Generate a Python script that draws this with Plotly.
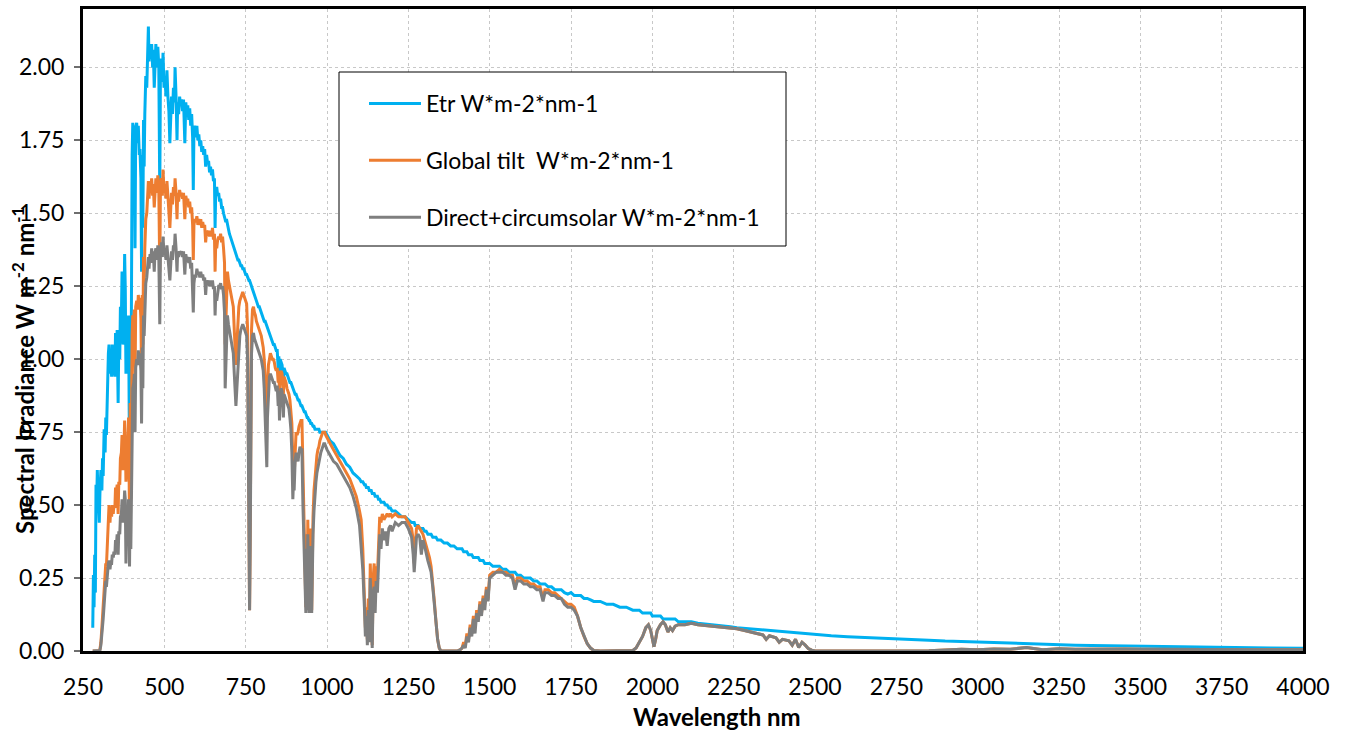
import plotly.graph_objects as go

# ---------------- data ----------------
wl_uv = [280, 282, 284, 286, 288, 290, 292, 294, 296, 298,
         300, 302, 305, 308, 310, 312, 315, 318, 320, 322,
         325, 328, 330, 333, 335, 338, 340, 343, 345, 348,
         350, 353, 355, 358, 360, 363, 365, 368, 370, 373,
         375, 378, 380, 382, 384, 386, 388, 390, 393, 395,
         397, 399]
etr_uv = [0.08, 0.26, 0.15, 0.33, 0.20, 0.57, 0.50, 0.62, 0.55, 0.46,
          0.44, 0.54, 0.62, 0.55, 0.66, 0.60, 0.76, 0.68, 0.80, 0.74,
          0.93, 1.02, 1.05, 0.95, 1.00, 0.94, 1.05, 0.96, 0.98, 0.94,
          1.09, 1.02, 1.10, 0.85, 1.06, 1.00, 1.18, 1.14, 1.30, 1.05,
          1.12, 1.36, 1.24, 0.95, 1.05, 1.07, 1.00, 1.15, 0.65, 1.10,
          0.75, 1.35]
glob_uv = [0, 0, 0, 0, 0, 0, 0, 0, 0, 0,
           0.001, 0.005, 0.03, 0.08, 0.12, 0.16, 0.22, 0.25, 0.30, 0.29,
           0.40, 0.46, 0.50, 0.44, 0.48, 0.46, 0.50, 0.47, 0.50, 0.49,
           0.56, 0.55, 0.57, 0.47, 0.58, 0.57, 0.66, 0.68, 0.74, 0.62,
           0.66, 0.79, 0.74, 0.58, 0.63, 0.65, 0.62, 0.80, 0.45, 0.85,
           0.52, 0.95]
dir_uv = [0, 0, 0, 0, 0, 0, 0, 0, 0, 0,
          0, 0.002, 0.02, 0.05, 0.08, 0.11, 0.16, 0.20, 0.24, 0.22,
          0.27, 0.30, 0.31, 0.28, 0.30, 0.30, 0.33, 0.32, 0.34, 0.33,
          0.38, 0.37, 0.40, 0.33, 0.41, 0.40, 0.46, 0.47, 0.52, 0.44,
          0.47, 0.55, 0.52, 0.30, 0.45, 0.47, 0.45, 0.52, 0.29, 0.51,
          0.35, 0.64]

wl_vis = [401, 403, 406, 408, 410, 412, 415, 418, 420, 423,
          425, 428, 430, 432, 434, 436, 438, 440, 443, 446,
          448, 451, 453, 456, 458, 461, 464, 466, 469, 471,
          474, 477, 480, 483, 486, 488, 491, 494, 496, 499,
          502, 505, 508, 511, 514, 517, 519, 522, 525, 528,
          531, 533, 536, 539, 541, 544, 547, 550, 553, 556,
          559, 561, 563, 566, 569, 572, 575, 578, 581, 584,
          587, 589, 591, 594, 597, 600, 603, 606, 609, 612,
          615, 618, 621, 624, 627, 630, 633, 636, 639, 642,
          645, 648, 651, 654, 656, 658, 661, 664, 667, 670,
          673, 676, 679, 682, 685, 687, 689, 691, 694, 697,
          700]
etr_vis = [1.70, 1.81, 1.78, 1.80, 1.38, 1.79, 1.81, 1.74, 1.80, 1.70,
           1.72, 1.62, 1.30, 1.70, 1.45, 1.82, 1.66, 1.84, 1.97, 1.93,
           2.05, 2.14, 2.02, 2.08, 2.03, 2.08, 2.00, 2.06, 1.93, 2.03,
           2.08, 2.00, 2.07, 2.00, 1.57, 1.98, 2.03, 1.95, 2.05, 1.93,
           1.97, 1.90, 1.99, 1.90, 1.85, 1.74, 1.80, 1.90, 1.84, 1.93,
           1.88, 2.00, 1.90, 1.75, 1.88, 1.84, 1.90, 1.87, 1.89, 1.85,
           1.89, 1.82, 1.74, 1.88, 1.84, 1.87, 1.82, 1.86, 1.80, 1.84,
           1.76, 1.58, 1.78, 1.80, 1.76, 1.80, 1.75, 1.77, 1.73, 1.75,
           1.71, 1.73, 1.70, 1.72, 1.66, 1.70, 1.67, 1.68, 1.64, 1.66,
           1.63, 1.65, 1.61, 1.62, 1.45, 1.58, 1.59, 1.56, 1.57, 1.54,
           1.55, 1.52, 1.52, 1.50, 1.49, 1.48, 1.47, 1.48, 1.46, 1.45,
           1.43]
glob_vis = [1.08, 1.15, 1.14, 1.17, 0.92, 1.18, 1.20, 1.17, 1.22, 1.18,
            1.21, 1.14, 0.95, 1.22, 1.05, 1.35, 1.25, 1.38, 1.48, 1.50,
            1.58, 1.61, 1.55, 1.60, 1.57, 1.62, 1.56, 1.60, 1.52, 1.59,
            1.62, 1.57, 1.63, 1.58, 1.30, 1.58, 1.62, 1.56, 1.65, 1.57,
            1.60, 1.55, 1.61, 1.56, 1.52, 1.45, 1.50, 1.57, 1.53, 1.59,
            1.56, 1.62, 1.57, 1.48, 1.57, 1.54, 1.58, 1.56, 1.57, 1.55,
            1.57, 1.53, 1.48, 1.56, 1.54, 1.55, 1.52, 1.54, 1.50, 1.52,
            1.46, 1.34, 1.46, 1.48, 1.47, 1.49, 1.46, 1.48, 1.46, 1.48,
            1.45, 1.47, 1.45, 1.46, 1.40, 1.44, 1.43, 1.44, 1.42, 1.44,
            1.42, 1.45, 1.41, 1.43, 1.30, 1.40, 1.38, 1.41, 1.42, 1.41,
            1.43, 1.40, 1.42, 1.38, 1.33, 1.05, 1.15, 1.25, 1.30, 1.27,
            1.25]
dir_vis = [0.82, 0.90, 0.92, 0.95, 0.75, 0.97, 1.00, 0.98, 1.03, 0.99,
           1.02, 0.96, 0.78, 1.04, 0.90, 1.15, 1.08, 1.18, 1.26, 1.28,
           1.32, 1.35, 1.31, 1.36, 1.33, 1.38, 1.33, 1.37, 1.30, 1.36,
           1.38, 1.34, 1.39, 1.35, 1.12, 1.36, 1.40, 1.35, 1.42, 1.36,
           1.38, 1.34, 1.39, 1.35, 1.31, 1.27, 1.31, 1.37, 1.34, 1.39,
           1.38, 1.43, 1.38, 1.30, 1.37, 1.35, 1.37, 1.36, 1.37, 1.35,
           1.37, 1.33, 1.29, 1.36, 1.34, 1.35, 1.33, 1.35, 1.31, 1.33,
           1.26, 1.16, 1.26, 1.29, 1.28, 1.31, 1.29, 1.30, 1.28, 1.30,
           1.28, 1.29, 1.27, 1.28, 1.22, 1.27, 1.26, 1.27, 1.25, 1.27,
           1.25, 1.27, 1.24, 1.25, 1.15, 1.22, 1.20, 1.24, 1.25, 1.25,
           1.26, 1.24, 1.25, 1.22, 1.16, 0.90, 1.00, 1.10, 1.15, 1.12,
           1.10]

wl_nir1 = [703, 706, 709, 712, 715, 718, 720, 723, 726, 729,
           732, 735, 738, 741, 744, 747, 750, 753, 756, 758,
           760, 762, 764, 766, 768, 771, 774, 777, 780, 783,
           786, 789, 792, 795, 798, 801, 804, 807, 810, 813,
           815, 817, 820, 823, 826, 829, 832, 835, 838, 841,
           844, 847, 850, 852, 854, 856, 859, 862, 866, 868,
           871, 874, 877, 880, 883, 886, 889, 892, 895, 897,
           899, 902, 905, 908, 911, 914, 917, 920, 923, 926,
           928, 930, 933, 935, 937, 939, 941, 943, 945, 947,
           950, 953, 955, 957, 960, 963, 966, 969, 972, 975,
           978, 981, 984, 987, 990, 993, 996, 1000]
etr_nir1 = [1.42, 1.41, 1.40, 1.39, 1.38, 1.37, 1.36, 1.35, 1.34, 1.34,
            1.33, 1.32, 1.32, 1.31, 1.31, 1.30, 1.29, 1.29, 1.28, 1.28,
            1.27, 1.27, 1.26, 1.26, 1.25, 1.24, 1.23, 1.22, 1.21, 1.20,
            1.19, 1.18, 1.18, 1.17, 1.16, 1.15, 1.14, 1.13, 1.13, 1.12,
            1.12, 1.11, 1.10, 1.09, 1.08, 1.07, 1.06, 1.05, 1.05, 1.04,
            1.03, 1.03, 0.97, 1.01, 0.94, 1.00, 0.99, 0.98, 0.92, 0.97,
            0.96, 0.95, 0.95, 0.94, 0.93, 0.92, 0.92, 0.91, 0.90, 0.90,
            0.89, 0.88, 0.88, 0.87, 0.86, 0.86, 0.85, 0.84, 0.84, 0.83,
            0.83, 0.82, 0.82, 0.81, 0.81, 0.80, 0.80, 0.79, 0.79, 0.79,
            0.78, 0.78, 0.77, 0.77, 0.77, 0.76, 0.76, 0.76, 0.76, 0.76,
            0.75, 0.75, 0.75, 0.75, 0.75, 0.75, 0.75, 0.74]
glob_nir1 = [1.23, 1.22, 1.20, 1.18, 1.10, 1.02, 0.98, 1.05, 1.12, 1.18,
             1.20, 1.21, 1.22, 1.23, 1.22, 1.21, 1.20, 1.19, 1.10, 0.60,
             0.20, 0.14, 0.40, 0.85, 1.10, 1.17, 1.18, 1.16, 1.15, 1.13,
             1.12, 1.11, 1.10, 1.09, 1.08, 1.06, 1.04, 1.00, 0.95, 0.88,
             0.80, 0.92, 0.98, 1.00, 1.02, 1.01, 1.00, 1.00, 0.99, 0.97,
             0.96, 0.97, 0.92, 0.96, 0.88, 0.95, 0.96, 0.95, 0.88, 0.94,
             0.93, 0.92, 0.90, 0.89, 0.88, 0.86, 0.83, 0.78, 0.65, 0.70,
             0.60, 0.72, 0.75, 0.74, 0.75, 0.77, 0.78, 0.79, 0.79, 0.60,
             0.50, 0.35, 0.22, 0.15, 0.40, 0.18, 0.45, 0.30, 0.15, 0.35,
             0.42, 0.14, 0.38, 0.46, 0.55, 0.60, 0.64, 0.67, 0.69, 0.70,
             0.72, 0.73, 0.74, 0.75, 0.75, 0.75, 0.74, 0.73]
dir_nir1 = [1.08, 1.07, 1.05, 1.02, 0.95, 0.88, 0.84, 0.90, 0.98, 1.04,
            1.08, 1.10, 1.11, 1.12, 1.11, 1.10, 1.09, 1.08, 1.00, 0.55,
            0.18, 0.14, 0.37, 0.78, 1.02, 1.08, 1.09, 1.07, 1.06, 1.05,
            1.04, 1.03, 1.02, 1.01, 1.00, 0.98, 0.96, 0.90, 0.82, 0.72,
            0.63, 0.80, 0.90, 0.94, 0.95, 0.94, 0.93, 0.92, 0.92, 0.90,
            0.89, 0.91, 0.84, 0.89, 0.79, 0.88, 0.90, 0.89, 0.80, 0.88,
            0.87, 0.86, 0.85, 0.84, 0.83, 0.80, 0.76, 0.68, 0.52, 0.58,
            0.55, 0.65, 0.68, 0.66, 0.65, 0.68, 0.70, 0.69, 0.69, 0.50,
            0.42, 0.25, 0.16, 0.13, 0.35, 0.14, 0.40, 0.24, 0.13, 0.30,
            0.36, 0.13, 0.33, 0.40, 0.48, 0.54, 0.58, 0.61, 0.63, 0.65,
            0.67, 0.68, 0.69, 0.70, 0.71, 0.71, 0.70, 0.69]

wl_nir2 = [1010, 1020, 1030, 1040, 1050, 1060, 1070, 1080, 1090, 1100,
           1105, 1110, 1115, 1118, 1121, 1124, 1127, 1130, 1133, 1136,
           1139, 1142, 1145, 1148, 1151, 1155, 1158, 1162, 1166, 1170,
           1175, 1180, 1185, 1190, 1195, 1200, 1210, 1220, 1230, 1240,
           1250, 1260, 1265, 1268, 1271, 1275, 1280, 1285, 1290, 1295,
           1300, 1305, 1310, 1315, 1320, 1325, 1330, 1335, 1340, 1345,
           1350, 1360, 1370, 1380, 1390, 1400, 1410, 1415, 1420, 1425,
           1430, 1435, 1440, 1445, 1450, 1455, 1460, 1465, 1470, 1475,
           1480, 1485, 1490, 1495, 1500]
etr_nir2 = [0.72, 0.71, 0.69, 0.67, 0.66, 0.64, 0.63, 0.61, 0.60, 0.59,
            0.58, 0.58, 0.57, 0.57, 0.56, 0.56, 0.56, 0.55, 0.55, 0.55,
            0.54, 0.54, 0.54, 0.53, 0.53, 0.53, 0.52, 0.52, 0.51, 0.51,
            0.51, 0.50, 0.50, 0.49, 0.49, 0.48, 0.48, 0.47, 0.46, 0.46,
            0.45, 0.44, 0.44, 0.44, 0.43, 0.43, 0.43, 0.42, 0.42, 0.42,
            0.41, 0.41, 0.40, 0.40, 0.40, 0.39, 0.39, 0.39, 0.38, 0.38,
            0.38, 0.37, 0.37, 0.36, 0.36, 0.35, 0.35, 0.35, 0.34, 0.34,
            0.34, 0.33, 0.33, 0.33, 0.32, 0.32, 0.32, 0.32, 0.31, 0.31,
            0.31, 0.30, 0.30, 0.30, 0.30]
glob_nir2 = [0.71, 0.69, 0.67, 0.65, 0.63, 0.61, 0.59, 0.56, 0.53, 0.48,
             0.45, 0.35, 0.20, 0.08, 0.15, 0.04, 0.18, 0.05, 0.30, 0.12,
             0.02, 0.25, 0.30, 0.18, 0.29, 0.26, 0.35, 0.46, 0.44, 0.47,
             0.45, 0.46, 0.47, 0.46, 0.47, 0.46, 0.47, 0.46, 0.46, 0.46,
             0.44, 0.42, 0.38, 0.30, 0.36, 0.42, 0.43, 0.42, 0.41, 0.40,
             0.38, 0.36, 0.34, 0.32, 0.29, 0.24, 0.17, 0.10, 0.04, 0.01,
             0.0, 0.0, 0.0, 0.0, 0.0, 0.0, 0.005, 0.01, 0.03, 0.02,
             0.06, 0.04, 0.09, 0.06, 0.12, 0.08, 0.14, 0.11, 0.17, 0.13,
             0.19, 0.16, 0.22, 0.18, 0.26]
dir_nir2 = [0.67, 0.65, 0.64, 0.62, 0.60, 0.58, 0.56, 0.53, 0.49, 0.43,
            0.35, 0.28, 0.15, 0.05, 0.12, 0.02, 0.14, 0.03, 0.25, 0.08,
            0.01, 0.20, 0.22, 0.13, 0.24, 0.20, 0.30, 0.40, 0.35, 0.42,
            0.38, 0.41, 0.36, 0.42, 0.43, 0.41, 0.44, 0.43, 0.44, 0.44,
            0.42, 0.39, 0.33, 0.27, 0.32, 0.39, 0.40, 0.39, 0.33, 0.38,
            0.36, 0.33, 0.31, 0.29, 0.27, 0.22, 0.16, 0.09, 0.04, 0.01,
            0.0, 0.0, 0.0, 0.0, 0.0, 0.0, 0.005, 0.01, 0.02, 0.01,
            0.05, 0.03, 0.08, 0.05, 0.11, 0.06, 0.13, 0.10, 0.16, 0.12,
            0.18, 0.14, 0.21, 0.17, 0.25]

wl_swir = [1510, 1520, 1530, 1540, 1550, 1560, 1570, 1578, 1585, 1595,
           1605, 1615, 1625, 1635, 1645, 1655, 1664, 1670, 1680, 1690,
           1700, 1710, 1720, 1730, 1740, 1750, 1760, 1770, 1780, 1790,
           1800, 1810, 1820, 1840, 1860, 1880, 1900, 1920, 1940, 1950,
           1960, 1970, 1980, 1988, 1995, 2000, 2005, 2010, 2015, 2025,
           2033, 2040, 2048, 2055, 2062, 2070, 2080, 2100, 2120, 2140,
           2160, 2180, 2200, 2220, 2240, 2260, 2280, 2300, 2320, 2340,
           2350, 2360, 2380, 2390, 2400, 2420, 2430, 2440, 2450, 2460,
           2470, 2480, 2490, 2500]
etr_swir = [0.29, 0.29, 0.29, 0.28, 0.28, 0.27, 0.27, 0.27, 0.26, 0.26,
            0.25, 0.25, 0.25, 0.24, 0.24, 0.23, 0.23, 0.23, 0.22, 0.22,
            0.21, 0.21, 0.21, 0.20, 0.195, 0.20, 0.19, 0.19, 0.19, 0.18,
            0.18, 0.175, 0.17, 0.17, 0.16, 0.16, 0.15, 0.15, 0.14, 0.14,
            0.14, 0.13, 0.13, 0.13, 0.13, 0.12, 0.12, 0.12, 0.12, 0.12,
            0.11, 0.11, 0.11, 0.11, 0.11, 0.11, 0.10, 0.10, 0.10, 0.095,
            0.093, 0.09, 0.088, 0.085, 0.083, 0.08, 0.078, 0.076, 0.073, 0.071,
            0.07, 0.069, 0.067, 0.066, 0.065, 0.063, 0.062, 0.061, 0.060, 0.059,
            0.058, 0.057, 0.056, 0.055]
glob_swir = [0.27, 0.27, 0.28, 0.27, 0.27, 0.26, 0.26, 0.22, 0.25, 0.25,
             0.24, 0.24, 0.23, 0.23, 0.22, 0.22, 0.18, 0.21, 0.21, 0.20,
             0.20, 0.19, 0.18, 0.17, 0.16, 0.16, 0.15, 0.12, 0.08, 0.05,
             0.025, 0.01, 0.002, 0, 0, 0, 0, 0, 0.002, 0.01,
             0.03, 0.05, 0.08, 0.09, 0.07, 0.04, 0.015, 0.04, 0.07, 0.09,
             0.10, 0.09, 0.065, 0.08, 0.07, 0.085, 0.09, 0.09, 0.095, 0.09,
             0.088, 0.086, 0.084, 0.082, 0.078, 0.076, 0.071, 0.066, 0.062, 0.055,
             0.04, 0.052, 0.045, 0.03, 0.04, 0.035, 0.02, 0.04, 0.012, 0.03,
             0.02, 0.008, 0.003, 0.0]
dir_swir = [0.26, 0.27, 0.27, 0.27, 0.26, 0.26, 0.25, 0.21, 0.24, 0.24,
            0.23, 0.23, 0.22, 0.22, 0.21, 0.21, 0.17, 0.20, 0.20, 0.19,
            0.19, 0.18, 0.18, 0.16, 0.15, 0.15, 0.14, 0.12, 0.08, 0.05,
            0.025, 0.01, 0.002, 0, 0, 0, 0, 0, 0.002, 0.01,
            0.03, 0.05, 0.08, 0.09, 0.07, 0.04, 0.015, 0.04, 0.07, 0.09,
            0.10, 0.09, 0.065, 0.08, 0.07, 0.085, 0.09, 0.09, 0.095, 0.09,
            0.088, 0.086, 0.084, 0.082, 0.078, 0.076, 0.071, 0.066, 0.062, 0.055,
            0.04, 0.052, 0.045, 0.03, 0.04, 0.035, 0.02, 0.04, 0.012, 0.03,
            0.02, 0.008, 0.003, 0.0]

wl_far = [2550, 2600, 2650, 2700, 2750, 2800, 2850, 2900, 2950, 3000,
          3050, 3100, 3150, 3200, 3250, 3300, 3350, 3400, 3450, 3500,
          3600, 3700, 3800, 3900, 4000]
etr_far = [0.052, 0.049, 0.047, 0.044, 0.042, 0.039, 0.037, 0.034, 0.032, 0.030,
           0.028, 0.027, 0.025, 0.023, 0.022, 0.020, 0.019, 0.018, 0.017, 0.016,
           0.014, 0.012, 0.011, 0.010, 0.009]
glob_far = [0, 0, 0, 0, 0, 0, 0.001, 0.003, 0.006, 0.004,
            0.007, 0.006, 0.012, 0.004, 0.008, 0.006, 0.007, 0.006, 0.007, 0.006,
            0.006, 0.006, 0.005, 0.005, 0.004]
dir_far = [0, 0, 0, 0, 0, 0, 0.001, 0.003, 0.006, 0.004,
           0.007, 0.006, 0.012, 0.004, 0.008, 0.006, 0.007, 0.006, 0.007, 0.006,
           0.006, 0.006, 0.005, 0.005, 0.004]

x_ticks = [250, 500, 750, 1000, 1250, 1500, 1750, 2000, 2250, 2500,
           2750, 3000, 3250, 3500, 3750, 4000]
y_ticks = [0.00, 0.25, 0.50, 0.75, 1.00, 1.25, 1.50, 1.75, 2.00]

series_names = ["Etr W*m-2*nm-1", "Global tilt  W*m-2*nm-1",
                "Direct+circumsolar W*m-2*nm-1"]
series_colors = ["#00B0F0", "#ED7D31", "#7F7F7F"]

# ---------------- assemble ----------------
wavelength = wl_uv + wl_vis + wl_nir1 + wl_nir2 + wl_swir + wl_far
etr = etr_uv + etr_vis + etr_nir1 + etr_nir2 + etr_swir + etr_far
glob = glob_uv + glob_vis + glob_nir1 + glob_nir2 + glob_swir + glob_far
direct = dir_uv + dir_vis + dir_nir1 + dir_nir2 + dir_swir + dir_far
for nm, arr in (("etr", etr), ("glob", glob), ("direct", direct)):
    if len(arr) != len(wavelength):
        raise ValueError(f"{nm}: {len(arr)} vs {len(wavelength)}")

W, H = 1345, 731
L, R, T, B = 83, 42, 9, 80
PW, PH = W - L - R, H - T - B


def fx(px):
    return (px - L) / PW


def fy(py):
    return (H - B - py) / PH


FONT = "Lato"

fig = go.Figure()
for i, (vals, nm, col) in enumerate(zip([etr, glob, direct], series_names, series_colors)):
    fig.add_trace(go.Scatter(
        x=wavelength, y=vals, mode="lines", name=nm,
        line=dict(color=col, width=3),
        legendgroup=f"g{i}", hoverinfo="x+y+name"))

fig.update_layout(
    width=W, height=H,
    margin=dict(l=L, r=R, t=T, b=B, autoexpand=False),
    paper_bgcolor="white", plot_bgcolor="white",
    font=dict(family=FONT, size=23, color="black"),
    showlegend=True,
    legend=dict(x=fx(364), y=fy(82), xanchor="left", yanchor="top",
                bgcolor="rgba(0,0,0,0)", borderwidth=0,
                itemwidth=52, tracegroupgap=24, traceorder="grouped",
                font=dict(family=FONT, size=23, color="black")),
    xaxis=dict(range=[250, 4000], tickmode="array", tickvals=x_ticks,
               ticktext=[str(v) for v in x_ticks],
               showgrid=True, gridcolor="#C8C8C8", griddash="dot", gridwidth=1,
               showline=True, linecolor="black", linewidth=3, mirror=True,
               ticks="", zeroline=False, ticklabelstandoff=13,
               tickfont=dict(family=FONT, size=23, color="black")),
    yaxis=dict(range=[0, 2.2], tickmode="array", tickvals=y_ticks,
               ticktext=[f"{v:.2f}" for v in y_ticks],
               showgrid=True, gridcolor="#C8C8C8", griddash="dot", gridwidth=1,
               showline=True, linecolor="black", linewidth=3, mirror=True,
               ticks="outside", ticklen=6, tickwidth=2, tickcolor="#6E6E6E",
               zeroline=False, ticklabelstandoff=5,
               tickfont=dict(family=FONT, size=23, color="black")),
    shapes=[dict(type="rect", xref="paper", yref="paper",
                 x0=fx(339), x1=fx(786), y0=fy(246), y1=fy(72),
                 fillcolor="white", line=dict(color="black", width=1),
                 layer="above")],
    annotations=[
        dict(text="<b>Wavelength nm</b>", xref="paper", yref="paper",
             x=fx(717), y=fy(717), xanchor="center", yanchor="middle",
             showarrow=False, font=dict(family=FONT, size=24, color="black")),
        dict(text="<b>Spectral Irradiance W m<sup>-2</sup> nm<sup>-1</sup></b>",
             xref="paper", yref="paper", x=fx(23), y=fy(371),
             xanchor="center", yanchor="middle", textangle=-90,
             showarrow=False, font=dict(family=FONT, size=24, color="black")),
    ],
)

fig.write_html("out.html", config={"displayModeBar": False})
